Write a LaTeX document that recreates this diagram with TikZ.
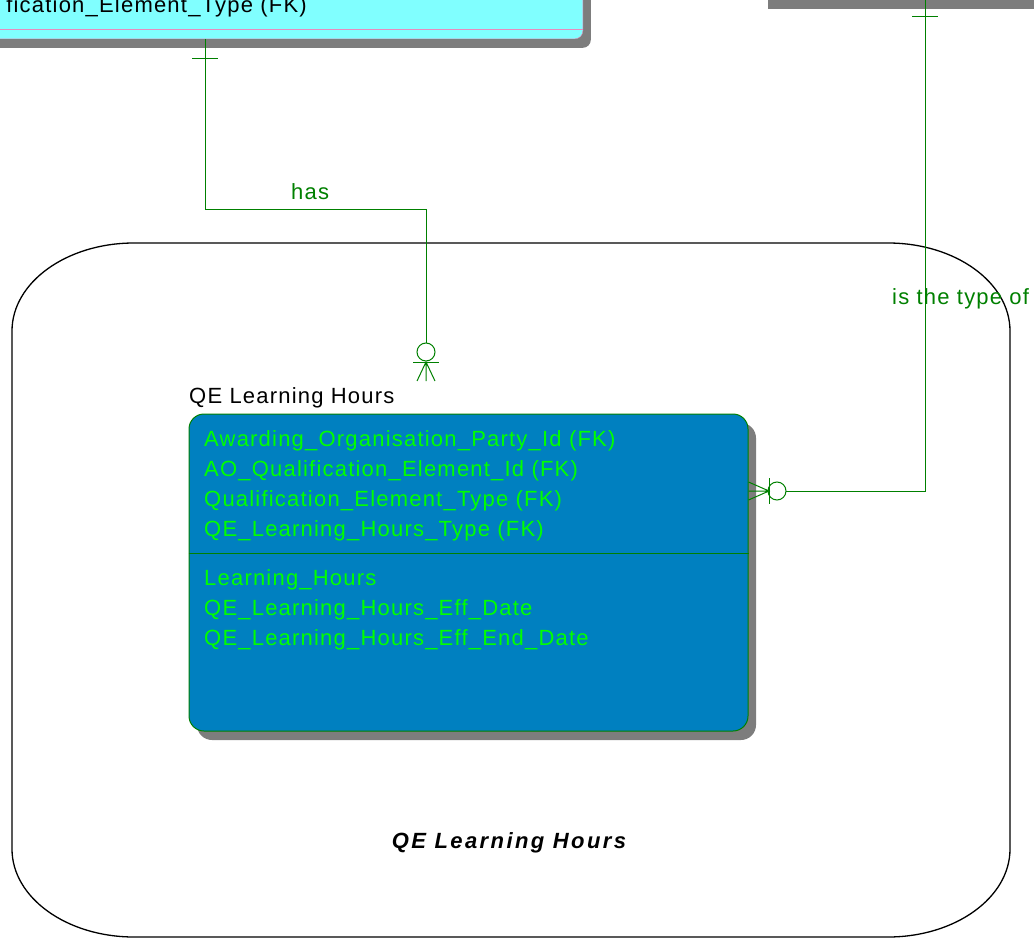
\documentclass[tikz,border=0pt]{standalone}
\usepackage{fontspec}
\setmainfont{Liberation Sans}
\newfontfamily\erfont[LetterSpace=5.5]{Liberation Sans}
\usetikzlibrary{shadows}
\definecolor{relgreen}{RGB}{0,128,0}
\definecolor{attrgreen}{RGB}{0,255,0}
\definecolor{entblue}{RGB}{0,128,192}
\definecolor{entcyan}{RGB}{128,255,255}
\definecolor{shadowgray}{RGB}{125,125,125}
\definecolor{seppink}{RGB}{230,140,190}

\begin{document}
\begin{tikzpicture}[x=1pt, y=-1pt,
    every node/.style={font=\erfont\fontsize{22}{30}\selectfont, inner sep=0pt},
    rel/.style={draw=relgreen, line width=1pt},
    erbox/.style={drop shadow={shadow xshift=8pt, shadow yshift=-9pt, fill=shadowgray, opacity=1}},
    entity/.style={erbox, draw=relgreen, line width=1pt, fill=entblue, rounded corners=15pt},
    attr/.style={text=attrgreen, anchor=base west},
    rellabel/.style={text=relgreen, anchor=base west}]
                \useasboundingbox (0,0) rectangle (1034,939);
                % subject area
                \draw[line width=1.3pt] (12,331) arc[start angle=180, end angle=90, x radius=122pt, y radius=88pt]
                    -- (888,243) arc[start angle=90, end angle=0, x radius=122pt, y radius=88pt]
                    -- (1010,849) arc[start angle=0, end angle=-90, x radius=122pt, y radius=88pt]
                    -- (134,937) arc[start angle=270, end angle=180, x radius=122pt, y radius=88pt] -- cycle;
                \node[anchor=base, font=\erfont\fontsize{22}{30}\selectfont\bfseries\itshape\addfontfeature{LetterSpace=11}] (areaname) at (509,848) {QE Learning Hours};
                % parent entities, cut by the frame
                \node[erbox, draw=seppink, fill=entcyan, rounded corners=8pt, minimum width=700pt, minimum height=100pt, anchor=south east] (qetype) at (583,39) {};
                \draw[seppink] (qetype.west |- 0,29) -- (qetype.east |- 0,29);
                \node[anchor=base east] (qetypekey) at (307,13) {fication\_Element\_Type (FK)};
                \node[erbox, draw=relgreen!35, fill=white, minimum width=300pt, minimum height=60pt, anchor=south west] (lhtype) at (760,0) {};
                % QE Learning Hours entity
                \node[entity, minimum width=559pt, minimum height=317pt] (qelh) at (468.5,572.5) {};
                \draw[draw=relgreen, line width=0.8pt] (qelh.west |- 0,553) -- (qelh.east |- 0,553);
                \node[anchor=base west] (qelhtitle) at (189,403) {QE Learning Hours};
                \node[attr] (key1) at (204,446) {Awarding\_Organisation\_Party\_Id (FK)};
                \node[attr] (key2) at (204,476) {AO\_Qualification\_Element\_Id (FK)};
                \node[attr] (key3) at (204,506) {Qualification\_Element\_Type (FK)};
                \node[attr] (key4) at (204,536) {QE\_Learning\_Hours\_Type (FK)};
                \node[attr] (col1) at (204,585) {Learning\_Hours};
                \node[attr] (col2) at (204,615) {QE\_Learning\_Hours\_Eff\_Date};
                \node[attr] (col3) at (204,645) {QE\_Learning\_Hours\_Eff\_End\_Date};
                % has
                \coordinate (hasend) at (426,381);
                \draw[rel] (qetype.south -| 205,0) |- (hasend |- 0,209) -- (426,343);
                \draw[rel] (192,59) -- (218,59);
                \draw[rel] (426,352) circle[radius=9pt];
                \draw[rel] (413,362) -- (439,362);
                \draw[rel] (417,381) -- (426,362) -- (435,381) (426,362) -- (hasend);
                \node[rellabel] (haslabel) at (291,200) {has};
                % is the type of
                \draw[rel] (lhtype.south -| 925,0) |- (786,491);
                \draw[rel] (912,17) -- (938,17);
                \draw[rel] (777,491) circle[radius=9pt];
                \draw[rel] (769,478) -- (769,504);
                \draw[rel] (qelh.east |- 0,482) -- (769,491) -- (qelh.east |- 0,500) (qelh.east |- 0,491) -- (769,491);
                \node[rellabel] (typelabel) at (892,304) {is the type of};
\end{tikzpicture}
\end{document}
